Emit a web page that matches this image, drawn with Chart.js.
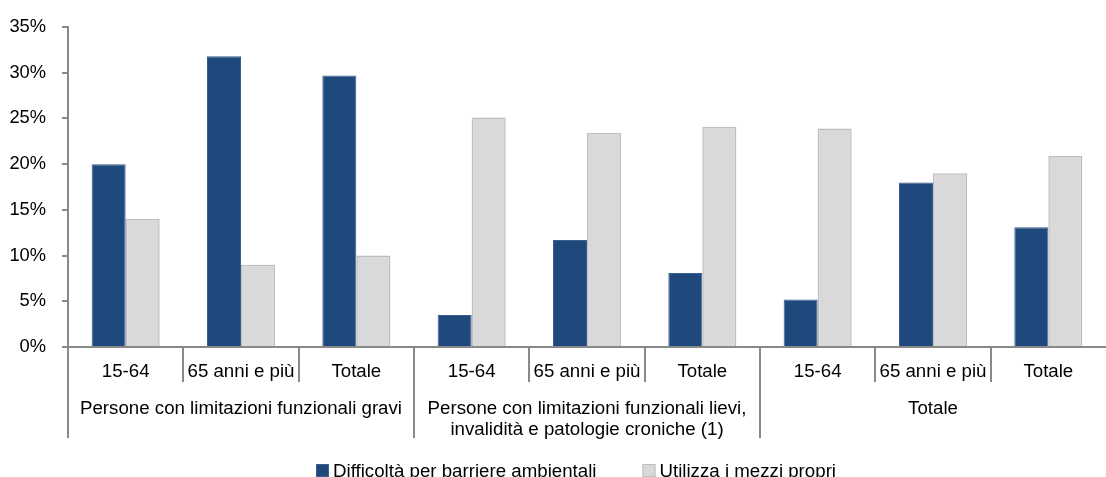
<!DOCTYPE html>
<html lang="it">
<head>
<meta charset="utf-8">
<title>Barriere ambientali e mezzi propri</title>
<script src="https://cdn.jsdelivr.net/npm/chart.js@4.4.1/dist/chart.umd.min.js"></script>
<style>
  html, body { margin: 0; padding: 0; background: #fff; }
  #wrap { width: 1106px; height: 477px; }
</style>
</head>
<body>
<div id="wrap"><canvas id="chart" width="1106" height="477"></canvas></div>
<script>
// dati (valori in %)
const subLabels = [
  "15-64", "65 anni e più", "Totale",
  "15-64", "65 anni e più", "Totale",
  "15-64", "65 anni e più", "Totale",
];
const groupLabels = [
  ["Persone con limitazioni funzionali gravi"],
  ["Persone con limitazioni funzionali lievi,", "invalidità e patologie croniche (1)"],
  ["Totale"],
];
const seriesNames = ["Difficoltà per barriere ambientali", "Utilizza i mezzi propri"];
const difficolta = [20.0, 31.8, 29.7, 3.5, 11.7, 8.1, 5.2, 18.0, 13.1];
const mezziPropri = [14.0, 9.0, 10.0, 25.1, 23.4, 24.1, 23.9, 19.0, 20.9];
const yMax = 35;
const yStep = 5;

const FONT = "'Liberation Sans', Arial, sans-serif";
const LABEL_SIZE = 18.7;
const AXIS_GREY = "#898989";
const DARK = "#1F497D";
const LIGHT = "#D9D9D9";

// separatori e etichette dei gruppi sotto l'asse x
const groupAxisPlugin = {
  id: "groupAxis",
  afterDraw(chart) {
    const ctx = chart.ctx;
    const xs = chart.scales.x;
    const area = chart.chartArea;
    const half = (xs.getPixelForValue(1) - xs.getPixelForValue(0)) / 2;

    ctx.save();
    ctx.strokeStyle = AXIS_GREY;
    ctx.lineWidth = 2;
    for (let i = 0; i < subLabels.length; i++) {
      const x = Math.round(xs.getPixelForValue(i) - half);
      const bottom = i % 3 === 0 ? area.bottom + 91 : area.bottom + 35;
      ctx.beginPath();
      ctx.moveTo(x, i === 0 ? area.top : area.bottom);
      ctx.lineTo(x, bottom);
      ctx.stroke();
    }

    ctx.fillStyle = "#000";
    ctx.font = LABEL_SIZE + "px " + FONT;
    ctx.textAlign = "center";
    ctx.textBaseline = "middle";
    groupLabels.forEach((lines, g) => {
      const cx = xs.getPixelForValue(g * 3 + 1);
      lines.forEach((line, k) => {
        ctx.fillText(line, cx, area.bottom + 61.5 + k * 21);
      });
    });
    ctx.restore();
  },
};

// legenda in basso, disegnata a mano per posizionarla come nell'originale
const bottomLegendPlugin = {
  id: "bottomLegend",
  afterDraw(chart) {
    const ctx = chart.ctx;
    const box = 13;
    const gapText = 4;
    const gapItem = 46;
    const y = 472;
    ctx.save();
    ctx.font = LABEL_SIZE + "px " + FONT;
    const widths = seriesNames.map((n) => box + gapText + ctx.measureText(n).width);
    const total = widths.reduce((a, b) => a + b, 0) + gapItem;
    let x = Math.round(576 - total / 2);
    chart.data.datasets.forEach((ds, i) => {
      ctx.fillStyle = ds.backgroundColor;
      ctx.fillRect(x, y - 8, box, box);
      ctx.strokeStyle = ds.borderColor;
      ctx.lineWidth = 1;
      ctx.strokeRect(x + 0.5, y - 7.5, box - 1, box - 1);
      ctx.fillStyle = "#000";
      ctx.textAlign = "left";
      ctx.textBaseline = "middle";
      ctx.fillText(seriesNames[i], x + box + gapText, y);
      x += widths[i] + gapItem;
    });
    ctx.restore();
  },
};

function renderChart() {
  const ctx = document.getElementById("chart");
  new Chart(ctx, {
    type: "bar",
    data: {
      labels: subLabels,
      datasets: [
        {
          label: seriesNames[0],
          data: difficolta,
          backgroundColor: DARK,
          borderColor: "#3A5F8C",
          borderWidth: 1,
          categoryPercentage: 0.59,
          barPercentage: 1,
        },
        {
          label: seriesNames[1],
          data: mezziPropri,
          backgroundColor: LIGHT,
          borderColor: "#BDBDBD",
          borderWidth: 1.5,
          categoryPercentage: 0.59,
          barPercentage: 1,
        },
      ],
    },
    options: {
      responsive: false,
      devicePixelRatio: 1,
      animation: false,
      layout: { padding: { top: 24, right: 0, bottom: 0, left: 0 } },
      plugins: {
        legend: { display: false },
        tooltip: { enabled: false },
      },
      scales: {
        x: {
          grid: { display: false, drawTicks: false },
          border: { display: true, color: AXIS_GREY, width: 2 },
          ticks: {
            color: "#000",
            font: { family: FONT, size: LABEL_SIZE },
            padding: 14,
            maxRotation: 0,
            autoSkip: false,
          },
          afterFit: (scale) => { scale.height = 130; },
        },
        y: {
          min: 0,
          max: yMax,
          ticks: {
            stepSize: yStep,
            color: "#000",
            font: { family: FONT, size: 18.3 },
            padding: 16,
            callback: (v) => v + "%",
          },
          grid: {
            drawOnChartArea: false,
            drawTicks: true,
            tickLength: 6,
            color: AXIS_GREY,
            lineWidth: 2,
          },
          border: { display: true, color: AXIS_GREY, width: 2 },
          afterFit: (scale) => { scale.width = 68; },
        },
      },
    },
    plugins: [groupAxisPlugin, bottomLegendPlugin],
  });
}

document.addEventListener("DOMContentLoaded", renderChart);
</script>
</body>
</html>
